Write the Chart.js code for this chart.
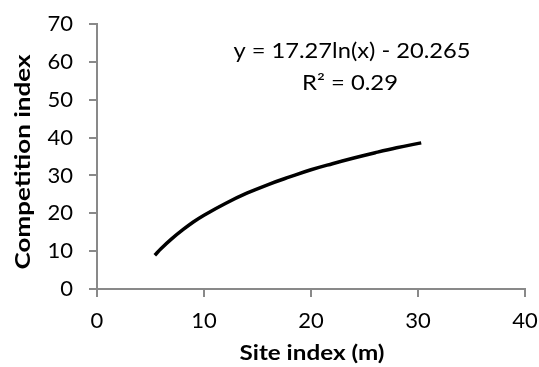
<!DOCTYPE html>
<html>
<head>
<meta charset="utf-8">
<script src="https://cdn.jsdelivr.net/npm/chart.js@4"></script>
<style>
  html, body { margin: 0; padding: 0; background: #fff; }
  #wrap { width: 539px; height: 367px; }
</style>
</head>
<body>
<div id="wrap"><canvas id="chart"></canvas></div>
<script>
// site index (m) and competition index along the fitted curve
var siteIndex = [5.4, 6, 7, 8, 9, 10, 12, 14, 16, 18, 20, 22, 24, 26, 28, 30.3];
var competition = [8.9, 10.7, 13.3, 15.6, 17.7, 19.5, 22.6, 25.3, 27.6, 29.6, 31.5, 33.1, 34.6, 36.0, 37.3, 38.6];
var xTicks = [0, 10, 20, 30, 40];
var yTicks = [0, 10, 20, 30, 40, 50, 60, 70];
var xTitle = 'Site index (m)';
var yTitle = 'Competition index';
var equation = 'y = 17.27ln(x) - 20.265';
var rSquared = 'R\u00b2 = 0.29';

var FONT = 'Lato, "Open Sans", sans-serif';
var AXIS = '#898989';

var pts = [];
for (var i = 0; i < siteIndex.length; i++) {
    pts.push({x: siteIndex[i], y: competition[i]});
}

/* text squeezed/stretched to a given width, centred on cx */
function fitText(c, txt, font, cx, baseY, w, rot) {
    c.save();
    c.font = font;
    var tw = c.measureText(txt).width;
    c.translate(cx, baseY);
    if (rot) c.rotate(rot);
    c.scale(w / tw, 1);
    c.textAlign = 'center';
    c.textBaseline = 'alphabetic';
    c.fillText(txt, 0, 0);
    c.restore();
}

/* axis titles and equation label */
var labels = {
    id: 'labels',
    afterDraw: function(chart) {
        var c = chart.ctx;
        c.fillStyle = '#000';
        fitText(c, equation, '21px ' + FONT, 352, 58, 237);
        fitText(c, rSquared, '21px ' + FONT, 350, 90, 96);
        fitText(c, xTitle, 'bold 21px ' + FONT, 312, 360, 145);
        fitText(c, yTitle, 'bold 21px ' + FONT, 30, 162, 215, -Math.PI / 2);
    }
};

new Chart(document.getElementById('chart'), {
    type: 'scatter',
    data: {
        datasets: [{
            data: pts,
            showLine: true,
            borderColor: '#000',
            borderWidth: 3.5,
            pointRadius: 0,
            tension: 0.4,
            fill: false
        }]
    },
    options: {
        responsive: true,
        maintainAspectRatio: false,
        animation: false,
        layout: { padding: { top: 24, right: 14, bottom: 4, left: 4 } },
        plugins: { legend: { display: false }, tooltip: { enabled: false } },
        scales: {
            x: {
                type: 'linear',
                min: 0, max: 40,
                afterBuildTicks: function(s) { s.ticks = xTicks.map(function(v) { return {value: v}; }); },
                afterFit: function(s) { s.height = 74; s.paddingLeft = 0; s.paddingRight = 0; },
                border: { color: AXIS, width: 2 },
                grid: { drawOnChartArea: false, color: AXIS, tickLength: 8, lineWidth: 2 },
                ticks: { color: '#000', font: { family: FONT, size: 22 }, padding: 11, maxRotation: 0 }
            },
            y: {
                min: 0, max: 70,
                afterBuildTicks: function(s) { s.ticks = yTicks.map(function(v) { return {value: v}; }); },
                afterFit: function(s) { s.width = 93; s.paddingTop = 0; s.paddingBottom = 0; },
                border: { color: AXIS, width: 2 },
                grid: { drawOnChartArea: false, color: AXIS, tickLength: 8, lineWidth: 2 },
                ticks: { color: '#000', font: { family: FONT, size: 22 }, padding: 16 }
            }
        }
    },
    plugins: [labels]
});
</script>
</body>
</html>
